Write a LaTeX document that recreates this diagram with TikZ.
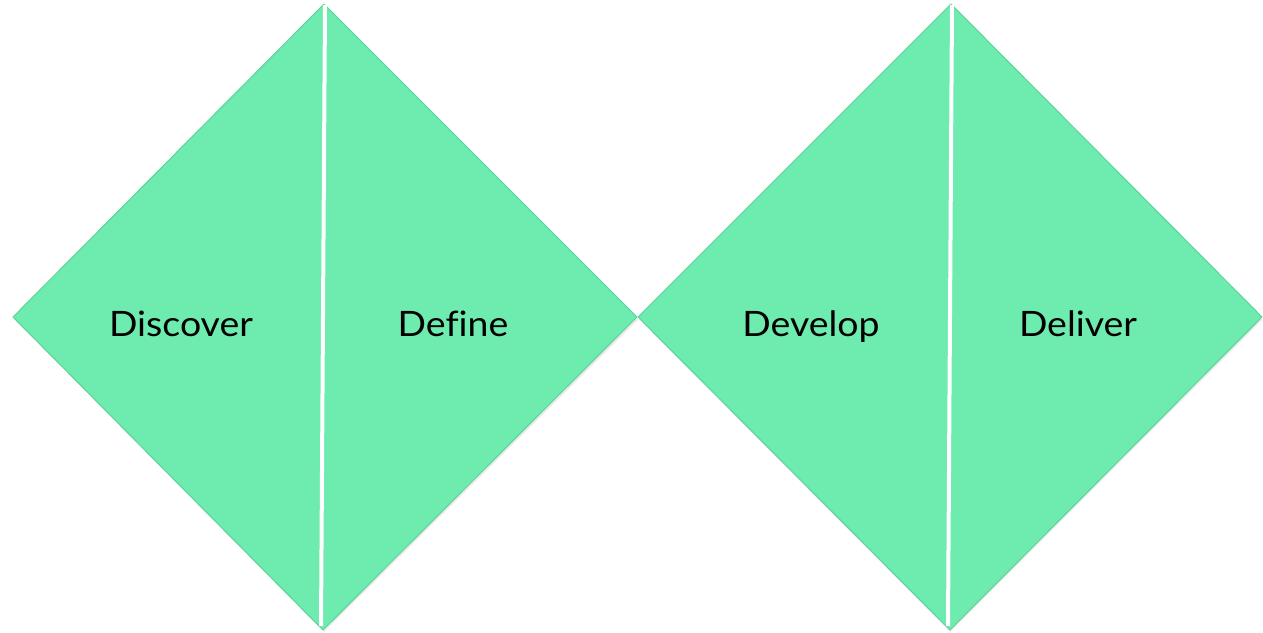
\documentclass[tikz,border=0pt]{standalone}
\usepackage{fontspec}
\setmainfont{Lato}[Ligatures=NoCommon,FakeStretch=1.07]
\definecolor{dfill}{RGB}{110,235,175}
\definecolor{dedge}{RGB}{92,212,152}
\begin{document}
\begin{tikzpicture}[x=1pt,y=-1pt,
  diam/.style={fill=dfill,draw=dedge,line width=1pt,line join=miter},
  split/.style={draw=white,line width=4pt},
  lbl/.style={font=\fontsize{35}{40}\selectfont,text=black,inner sep=0pt,anchor=base}]
\useasboundingbox (0,0) rectangle (1263,632);
% faint shadows
\fill[black!8] (14,319) -- (324,632) -- (639,319) -- cycle;
\fill[black!8] (639,319) -- (950,632) -- (1263,319) -- cycle;
\path[diam] (13,317) -- (324,4) -- (637,317) -- (323,630) -- cycle;
\path[diam] (638,317) -- (951,4) -- (1262,317) -- (950,630) -- cycle;
\coordinate (s1t) at (325,5);
\coordinate (s1b) at (321,626);
\coordinate (s2t) at (952,5);
\coordinate (s2b) at (948,626);
\draw[split] (s1t) -- (s1b);
\draw[split] (s2t) -- (s2b);
\node[lbl] (discover) at (181,336) {Discover};
\node[lbl] (define) at (453,336) {Define};
\node[lbl] (develop) at (811,336) {Develop};
\node[lbl] (deliver) at (1078,336) {Deliver};
\end{tikzpicture}
\end{document}
